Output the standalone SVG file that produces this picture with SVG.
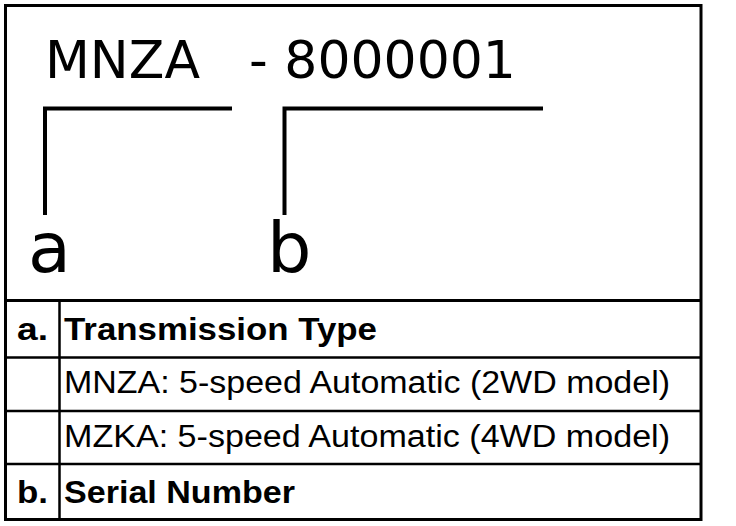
<svg xmlns="http://www.w3.org/2000/svg" width="736" height="526" viewBox="0 0 736 526">
<style>
.ln{stroke:#000;fill:none}
.title{font-family:"DejaVu Sans",sans-serif;font-size:52px;fill:#000}
.big{font-family:"DejaVu Sans",sans-serif;font-size:70px;fill:#000}
.b{font-family:"Liberation Sans",Arial,sans-serif;font-weight:bold;font-size:31px;fill:#000}
.r{font-family:"Liberation Sans",Arial,sans-serif;font-size:31px;fill:#000}
</style>
<rect width="736" height="526" fill="#fff"/>
<g id="frame">
<rect class="ln" x="5.5" y="5.5" width="695.5" height="514" stroke-width="3"/>
<line class="ln" x1="5" y1="300.5" x2="701" y2="300.5" stroke-width="3"/>
<line class="ln" x1="5" y1="357.5" x2="701" y2="357.5" stroke-width="2.5"/>
<line class="ln" x1="5" y1="411" x2="701" y2="411" stroke-width="2.5"/>
<line class="ln" x1="5" y1="464" x2="701" y2="464" stroke-width="2.5"/>
<line class="ln" x1="59.5" y1="300" x2="59.5" y2="520" stroke-width="2.5"/>
</g>
<g id="code">
<text class="title" x="45" y="78">MNZA</text>
<text class="title" x="249" y="78">- 8000001</text>
</g>
<g id="connectors">
<polyline class="ln" points="45,215 45,108.5 232,108.5" stroke-width="4"/>
<polyline class="ln" points="284.5,215 284.5,108.5 543,108.5" stroke-width="4"/>
</g>
<g id="label-a"><text class="big" x="28" y="272">a</text></g>
<g id="label-b"><text class="big" x="267" y="272">b</text></g>
<g id="table">
<text class="b" x="17" y="340" textLength="31" lengthAdjust="spacingAndGlyphs">a.</text>
<text class="b" x="64" y="340" textLength="313" lengthAdjust="spacingAndGlyphs">Transmission Type</text>
<text class="r" x="64" y="393" textLength="606" lengthAdjust="spacingAndGlyphs">MNZA: 5-speed Automatic (2WD model)</text>
<text class="r" x="64" y="447" textLength="606" lengthAdjust="spacingAndGlyphs">MZKA: 5-speed Automatic (4WD model)</text>
<text class="b" x="17" y="503" textLength="31" lengthAdjust="spacingAndGlyphs">b.</text>
<text class="b" x="64" y="503" textLength="231" lengthAdjust="spacingAndGlyphs">Serial Number</text>
</g>
</svg>
